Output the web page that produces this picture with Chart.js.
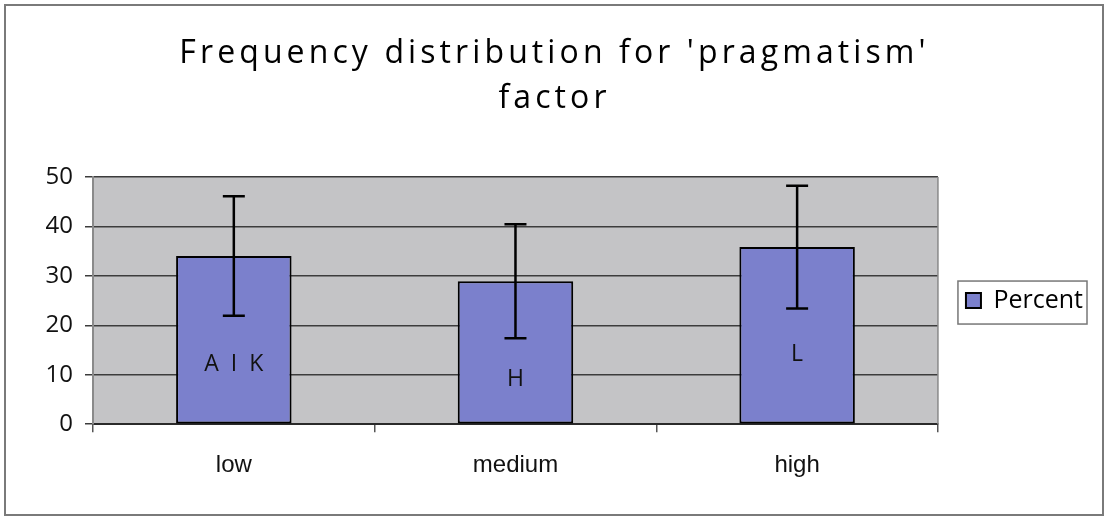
<!DOCTYPE html>
<html>
<head>
<meta charset="utf-8">
<script src="https://cdn.jsdelivr.net/npm/chart.js@4/dist/chart.umd.min.js"></script>
<style>
  html, body { margin: 0; padding: 0; background: #fff; }
  #wrap { width: 1106px; height: 519px; position: relative; }
</style>
</head>
<body>
<div id="wrap"><canvas id="freqChart" width="1106" height="519"></canvas></div>
<script>
"use strict";

// ── data ──
const categories = ["low", "medium", "high"];
const percent = [34, 28.9, 35.8];
const errorPlusMinus = [12.1, 11.5, 12.4];
const barTags = ["A I K", "H", "L"];
const yTicks = [0, 10, 20, 30, 40, 50];

const C = {
  plotBg: "#c4c4c6",
  bar: "#7b80cc",
  grid: "#3c3c3c",
  frame: "#7a7a7a",
  text: "#111"
};

// plot area fill + outer page frame
const backdrop = {
  id: "backdrop",
  beforeDraw(chart) {
    const { ctx, chartArea: a } = chart;
    ctx.save();
    ctx.fillStyle = C.plotBg;
    ctx.fillRect(a.left, a.top, a.right - a.left, a.bottom - a.top);
    ctx.strokeStyle = C.frame;
    ctx.lineWidth = 2;
    ctx.strokeRect(5, 5, chart.width - 8, chart.height - 9);
    ctx.restore();
  },
  afterDraw(chart) {
    const { ctx, chartArea: a } = chart;
    ctx.save();
    ctx.strokeStyle = "#8a8a8a";
    ctx.lineWidth = 1.5;
    ctx.beginPath();
    ctx.moveTo(a.right, a.top);
    ctx.lineTo(a.right, a.bottom);
    ctx.stroke();
    // legend frame
    const hb = chart.legend && chart.legend.legendHitBoxes && chart.legend.legendHitBoxes[0];
    if (hb) {
      ctx.strokeStyle = "#777";
      ctx.lineWidth = 1.5;
      ctx.strokeRect(hb.left - 8, hb.top - 7, hb.width + 12, hb.height + 18);
    }
    ctx.restore();
  }
};

// error bars and the letters written inside the bars
const tagLevels = [12, 9, 14];
const errorBars = {
  id: "errorBars",
  afterDatasetsDraw(chart) {
    const { ctx } = chart;
    const y = chart.scales.y;
    const meta = chart.getDatasetMeta(0);
    ctx.save();
    meta.data.forEach((bar, i) => {
      const top = y.getPixelForValue(percent[i] + errorPlusMinus[i]);
      const bot = y.getPixelForValue(percent[i] - errorPlusMinus[i]);
      ctx.strokeStyle = "#000";
      ctx.lineWidth = 2.5;
      ctx.beginPath();
      ctx.moveTo(bar.x, top); ctx.lineTo(bar.x, bot);
      ctx.moveTo(bar.x - 11, top); ctx.lineTo(bar.x + 11, top);
      ctx.moveTo(bar.x - 11, bot); ctx.lineTo(bar.x + 11, bot);
      ctx.stroke();

      ctx.fillStyle = "#111";
      ctx.font = "500 23px 'Open Sans'";
      ctx.letterSpacing = "3px";
      ctx.textAlign = "center";
      ctx.textBaseline = "middle";
      ctx.fillText(barTags[i], bar.x + 1.5, y.getPixelForValue(tagLevels[i]));
    });
    ctx.restore();
  }
};

// wider letter spacing on the title only
const titleSpacing = {
  id: "titleSpacing",
  afterLayout(chart) {
    const t = chart.titleBlock;
    if (!t || t._spaced) return;
    const orig = t.draw;
    t.draw = function () {
      const ctx = this.ctx;
      ctx.save();
      ctx.letterSpacing = "4.1px";
      ctx.translate(8, 0);
      orig.apply(this, arguments);
      ctx.restore();
    };
    t._spaced = true;
  }
};

new Chart(document.getElementById("freqChart"), {
  type: "bar",
  data: {
    labels: categories,
    datasets: [{
      label: "Percent",
      data: percent,
      backgroundColor: C.bar,
      borderColor: "#000",
      borderWidth: 2,
      borderSkipped: false,
      categoryPercentage: 1,
      barPercentage: 0.41
    }]
  },
  options: {
    responsive: false,
    animation: false,
    layout: { padding: { left: 0, right: 13, top: 0, bottom: 20 } },
    plugins: {
      tooltip: { enabled: false },
      title: {
        display: true,
        text: ["Frequency distribution for 'pragmatism'", "factor"],
        color: "#000",
        font: { family: "'Open Sans'", size: 32, weight: "500", lineHeight: 1.42 },
        padding: { top: 31, bottom: 55 }
      },
      legend: {
        position: "right",
        fullSize: false,
        labels: {
          boxWidth: 15,
          boxHeight: 15,
          padding: 28,
          color: "#000",
          font: { family: "'Open Sans'", size: 25 }
        }
      }
    },
    scales: {
      x: {
        grid: { offset: true, drawOnChartArea: false, tickLength: 8, color: "#555", lineWidth: 1.5 },
        border: { color: "#2a2a2a", width: 2 },
        ticks: { color: C.text, padding: 19, font: { family: "'Liberation Sans'", size: 24 } }
      },
      y: {
        min: 0,
        max: 50,
        afterFit(scale) { scale.width = 93; },
        afterBuildTicks(scale) { scale.ticks = yTicks.map(v => ({ value: v })); },
        grid: { color: C.grid, lineWidth: 1.5, tickLength: 8 },
        border: { color: "#8a8a8a", width: 2 },
        ticks: { color: C.text, padding: 12, font: { family: "'Open Sans'", size: 24 } }
      }
    }
  },
  plugins: [backdrop, errorBars, titleSpacing]
});
</script>
</body>
</html>
